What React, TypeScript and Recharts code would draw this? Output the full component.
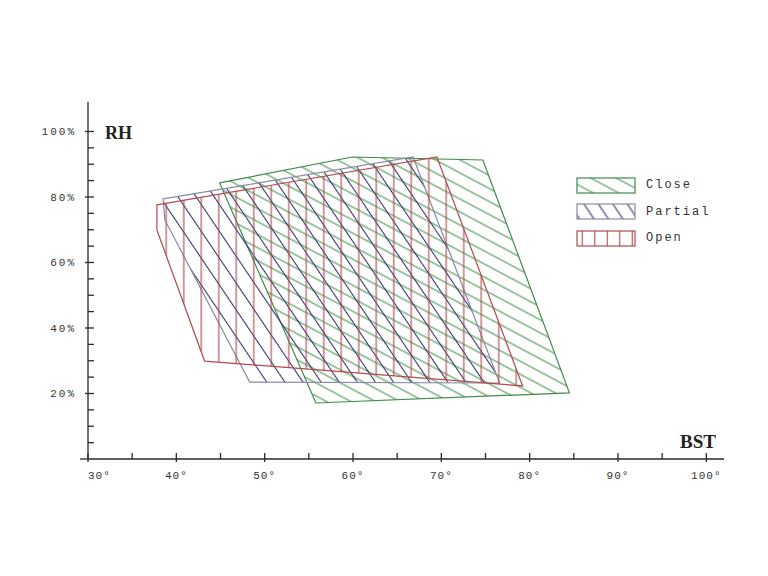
import React from 'react';
import { ScatterChart, Scatter, XAxis, YAxis, Legend, Customized } from 'recharts';

// tick values
const bstTicks = [30, 35, 40, 45, 50, 55, 60, 65, 70, 75, 80, 85, 90, 95, 100];
const rhTicks = [5, 10, 15, 20, 25, 30, 35, 40, 45, 50, 55, 60, 65, 70, 75, 80, 85, 90, 95, 100];

// polygon corners, BST (deg) / RH (%)
const closeBst = [44.9, 59.9, 74.7, 84.5, 55.8];
const closeRh = [84.3, 92.2, 91.3, 20.2, 17.1];
const partialBst = [38.5, 66.8, 76.6, 48.3, 38.7];
const partialRh = [79.4, 92.2, 23.2, 23.5, 73.0];
const openBst = [37.8, 69.5, 79.2, 43.2, 37.8];
const openRh = [77.6, 92.2, 22.3, 29.9, 69.9];

const series = [
	{ name: 'Close', bst: closeBst, rh: closeRh, hatch: '#4a984f', edge: '#3f8a4a', angle: 28, gap: 11.5, legendGap: 12 },
	{ name: 'Partial', bst: partialBst, rh: partialRh, hatch: '#34346c', edge: '#8a8aa8', angle: 56, gap: 15, legendGap: 12 },
	{ name: 'Open', bst: openBst, rh: openRh, hatch: '#ae4649', edge: '#b24a4e', angle: 90, gap: 17.5, legendGap: 12.5 },
];

const axisColor = '#2a2a2a';
const mono = '"Liberation Mono", "DejaVu Sans Mono", monospace';

function hatchPolygon(id: string, s: any) {
	return (props: any) => {
		var pts = props.points || [];
		if (pts.length == 0) return <g />;
		var d = pts.map((p: any, i: number) => (i == 0 ? 'M' : 'L') + p.x + ',' + p.y).join(' ') + ' Z';
		return (
			<g>
				<defs>
					<pattern id={id} patternUnits="userSpaceOnUse" width={s.gap} height={s.gap} patternTransform={`rotate(${s.angle})`}>
						<line x1={0} y1={s.gap / 2} x2={s.gap} y2={s.gap / 2} stroke={s.hatch} strokeWidth={1.1} />
					</pattern>
				</defs>
				<path d={d} fill={`url(#${id})`} stroke={s.edge} strokeWidth={1.2} />
			</g>
		);
	};
}

const XTick = (props: any) => {
	const { x, y, payload } = props;
	const v = payload.value;
	const major = v % 10 == 0;
	return (
		<g>
			<line x1={x} x2={x} y1={y - 6} y2={major ? y + 3 : y} stroke={axisColor} strokeWidth={1.3} />
			{major && (
				<text x={x} y={y + 20} textAnchor={v == 30 ? 'start' : 'middle'} fontFamily={mono} fontSize={11} letterSpacing={1} fill="#333">
					{v}°
				</text>
			)}
		</g>
	);
};

const YTick = (props: any) => {
	const { x, y, payload } = props;
	const v = payload.value;
	const major = v % 20 == 0;
	return (
		<g>
			<line x1={major ? x - 3 : x} x2={x + 6} y1={y} y2={y} stroke={axisColor} strokeWidth={1.3} />
			{major && (
				<text x={x - 12} y={y + 4} textAnchor="end" fontFamily={mono} fontSize={11} letterSpacing={2} fill="#333">
					{v}%
				</text>
			)}
		</g>
	);
};

const renderLegend = (props: any) => {
	const payload = (props.payload || []).slice();
	// keep the order of the series, not alphabetical
	payload.sort((a: any, b: any) => series.findIndex((s) => s.name == a.value) - series.findIndex((s) => s.name == b.value));
	return (
		<div>
			{payload.map((entry: any, i: number) => {
				const s = series.find((it) => it.name == entry.value) || series[0];
				const pid = 'lg-' + s.name;
				return (
					<div key={i} style={{ display: 'flex', alignItems: 'center', height: 26.5 }}>
						<svg width={60} height={17}>
							<defs>
								<pattern id={pid} patternUnits="userSpaceOnUse" width={s.legendGap} height={s.legendGap} patternTransform={`rotate(${s.angle})`}>
									<line x1={0} y1={s.legendGap / 2} x2={s.legendGap} y2={s.legendGap / 2} stroke={s.hatch} strokeWidth={1.1} />
								</pattern>
							</defs>
							<rect x={1} y={1} width={58} height={15} fill={`url(#${pid})`} stroke={s.edge} strokeWidth={1.2} />
						</svg>
						<span style={{ marginLeft: 10, fontFamily: mono, fontSize: 12, letterSpacing: 2, color: '#333' }}>{entry.value}</span>
					</div>
				);
			})}
		</div>
	);
};

const Titles = () => (
	<g>
		<line x1={80} x2={88} y1={459} y2={459} stroke={axisColor} strokeWidth={1.3} />
		<text x={105} y={139} fontFamily='"Liberation Serif", serif' fontWeight="bold" fontSize={18} fill="#222">RH</text>
		<text x={680} y={448} fontFamily='"Liberation Serif", serif' fontWeight="bold" fontSize={19} fill="#222">BST</text>
	</g>
);

export default function App() {
	return (
		<div style={{ position: 'absolute', left: 0, top: 0, background: '#fff' }}>
			<ScatterChart width={768} height={576} margin={{ top: 102, right: 44, left: 28, bottom: 87 }}>
				<XAxis type="number" dataKey="x" domain={[30, 102]} ticks={bstTicks} interval={0} tick={XTick} tickLine={false} tickSize={0} tickMargin={0} height={30} axisLine={{ stroke: axisColor, strokeWidth: 1.3 }} allowDataOverflow />
				<YAxis type="number" dataKey="y" domain={[0, 109]} ticks={rhTicks} interval={0} tick={YTick} tickLine={false} tickSize={0} tickMargin={0} width={60} axisLine={{ stroke: axisColor, strokeWidth: 1.3 }} allowDataOverflow />
				<Legend content={renderLegend} layout="horizontal" verticalAlign="middle" align="center" wrapperStyle={{ left: 576, top: 172, width: 170 }} />
				{series.map((s) => (
					<Scatter
						key={s.name}
						name={s.name}
						data={s.bst.map((b, i) => ({ x: b, y: s.rh[i] }))}
						fill={s.hatch}
						line={hatchPolygon('hatch-' + s.name, s)}
						lineType="joint"
						shape={() => <g />}
						isAnimationActive={false}
					/>
				))}
				<Customized component={Titles} />
			</ScatterChart>
		</div>
	);
}
